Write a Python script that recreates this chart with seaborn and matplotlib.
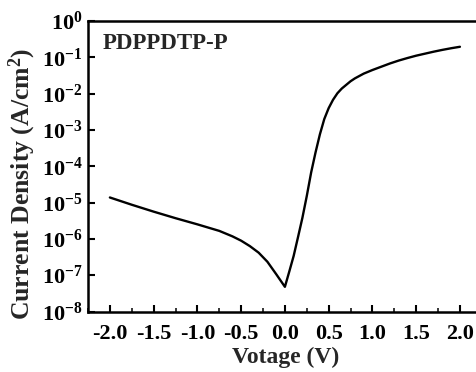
import numpy as np
import pandas as pd
import matplotlib
matplotlib.use("Agg")
import matplotlib.pyplot as plt
import seaborn as sns
from matplotlib.ticker import FixedLocator, MultipleLocator, FuncFormatter, NullLocator

voltage = [-2.0, -1.75, -1.5, -1.25, -1.0, -0.75, -0.6, -0.5, -0.4, -0.3, -0.2, -0.1, 0.0,
           0.05, 0.1, 0.15, 0.2, 0.25, 0.3, 0.35, 0.4, 0.45, 0.5, 0.55, 0.6, 0.65, 0.7, 0.75,
           0.8, 0.9, 1.0, 1.1, 1.2, 1.3, 1.4, 1.5, 1.6, 1.7, 1.8, 1.9, 2.0]
log_current = [-4.86, -5.06, -5.25, -5.43, -5.60, -5.78, -5.93, -6.05, -6.20, -6.38, -6.63, -6.97, -7.32,
               -6.90, -6.47, -5.95, -5.42, -4.82, -4.17, -3.62, -3.12, -2.70, -2.40, -2.17, -1.99, -1.86, -1.76, -1.66,
               -1.58, -1.45, -1.35, -1.26, -1.17, -1.09, -1.02, -0.955, -0.90, -0.845, -0.795, -0.75, -0.71]
current = [10 ** v for v in log_current]
sample_label = "PDPPDTP-P"
x_ticks = [-2.0, -1.5, -1.0, -0.5, 0.0, 0.5, 1.0, 1.5, 2.0]
y_exponents = [0, -1, -2, -3, -4, -5, -6, -7, -8]

df = pd.DataFrame({"Voltage": voltage, "Current": current})

sns.set_style("ticks")
plt.rcParams["font.family"] = ["Liberation Serif", "DejaVu Serif"]
plt.rcParams["font.weight"] = "bold"
plt.rcParams["mathtext.fontset"] = "custom"
plt.rcParams["mathtext.rm"] = "Liberation Serif:bold"
plt.rcParams["mathtext.it"] = "Liberation Serif:bold"
plt.rcParams["mathtext.bf"] = "Liberation Serif:bold"
plt.rcParams["mathtext.default"] = "rm"

fig = plt.figure(figsize=(4.76, 3.72), dpi=100)
ax = fig.add_axes([88 / 476, 1 - 311.5 / 372, (481.8 - 88) / 476, (311.5 - 21) / 372])

sns.lineplot(data=df, x="Voltage", y="Current", ax=ax, color="black", linewidth=1.7, legend=False)

ax.set_yscale("log")
ax.set_ylim(1e-8, 1e0)
ax.set_xlim(-2.25, 2.25)

ax.xaxis.set_major_locator(FixedLocator(x_ticks))
ax.xaxis.set_minor_locator(MultipleLocator(0.25))
ax.xaxis.set_major_formatter(FuncFormatter(lambda v, p: f"{v:.1f}"))
ax.yaxis.set_major_locator(FixedLocator([10.0 ** e for e in y_exponents]))
ax.yaxis.set_minor_locator(NullLocator())
ax.yaxis.set_major_formatter(FuncFormatter(lambda v, p: r"$10^{%d}$" % int(round(np.log10(v)))))

for s in ax.spines.values():
    s.set_linewidth(1.8)
    s.set_color("black")

ax.tick_params(axis="x", which="major", direction="in", length=5, width=1.5,
               labelsize=16, colors="black", top=False, pad=9)
ax.tick_params(axis="y", which="major", direction="in", length=5, width=1.5,
               labelsize=16, colors="black", right=False, pad=4)
ax.tick_params(axis="x", which="minor", direction="in", length=3, width=1.3, top=False)
for lbl in ax.get_xticklabels() + ax.get_yticklabels():
    lbl.set_fontweight("bold")

ax.set_xlabel("Votage (V)", fontsize=17, fontweight="bold")
ax.xaxis.set_label_coords(0.503, -0.122)
ax.xaxis.label.set_va("top")
ax.set_ylabel(r"Current Density (A/cm$^{2}$)", fontsize=18.5, fontweight="bold")
ax.yaxis.set_label_coords(-0.127, 0.44)
ax.text(0.038, 0.922, sample_label, transform=ax.transAxes, fontsize=16.5, fontweight="bold",
        va="center", ha="left")

fig.savefig("out.png", dpi=100)
